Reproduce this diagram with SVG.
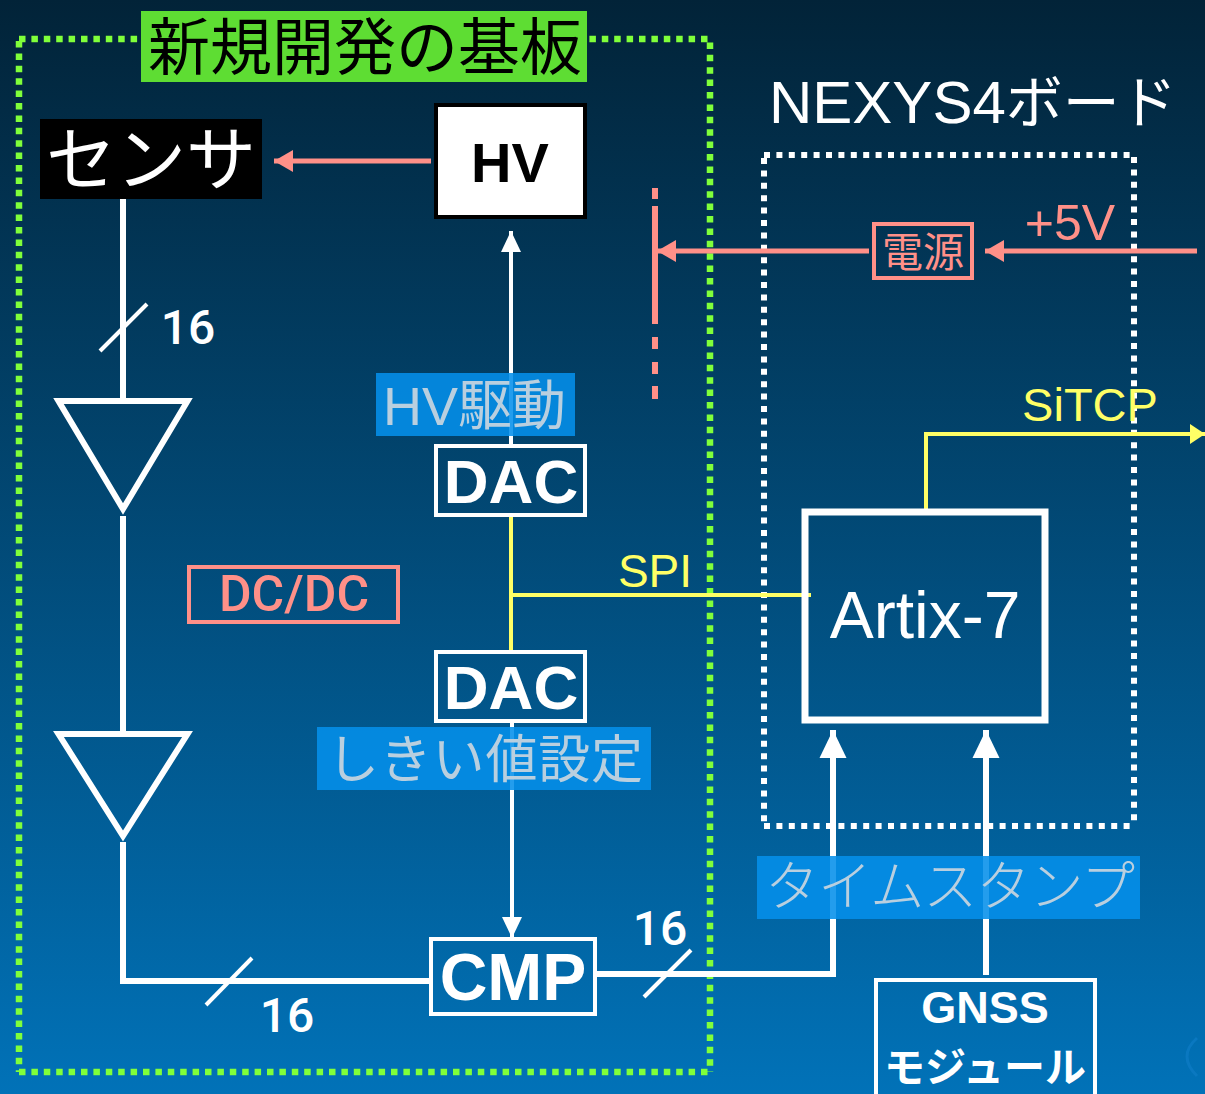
<svg xmlns="http://www.w3.org/2000/svg" width="1205" height="1094" viewBox="0 0 1205 1094">
<style>
text{font-family:"Liberation Sans","Noto Sans CJK JP",sans-serif;text-anchor:middle}
.jp{font-family:"Noto Sans CJK JP",sans-serif;font-weight:400}
.mix{font-family:"Liberation Sans","Noto Sans CJK JP",sans-serif;font-weight:400;text-anchor:start}
.num{font-family:Roboto,"Liberation Sans",sans-serif;font-weight:500;fill:#fff;font-size:48px}
.w{fill:none;stroke:#fff;stroke-width:6}
.w3{fill:none;stroke:#fff;stroke-width:4}
.y{fill:none;stroke:#ffff66;stroke-width:4}
.p{fill:none;stroke:#ff9088;stroke-width:5}
.box{fill:none;stroke:#fff;stroke-width:4}
.lb{font-weight:bold;fill:#fff}
.tag{fill:#0590ea;opacity:.88}
.tagt{fill:#b9cfdf}
</style>
<defs>
<linearGradient id="bg" x1="0" y1="0" x2="0" y2="1"><stop offset="0" stop-color="#022338"/><stop offset="1" stop-color="#0172b8"/></linearGradient>
<marker id="aw" markerUnits="userSpaceOnUse" markerWidth="22" markerHeight="24" refX="21" refY="12" orient="auto"><path d="M0,2L21,12L0,22Z" fill="#fff"/></marker>
<marker id="awb" markerUnits="userSpaceOnUse" markerWidth="30" markerHeight="30" refX="28" refY="15" orient="auto"><path d="M0,1.500L28,15L0,28.500Z" fill="#fff"/></marker>
<marker id="ap" markerUnits="userSpaceOnUse" markerWidth="20" markerHeight="26" refX="19" refY="13" orient="auto"><path d="M0,2L19,13L0,24Z" fill="#ff9088"/></marker>
<marker id="ay" markerUnits="userSpaceOnUse" markerWidth="16" markerHeight="26" refX="15" refY="13" orient="auto"><path d="M0,3L15,13L0,23Z" fill="#ffff66"/></marker>
</defs>
<rect width="1205" height="1094" fill="url(#bg)"/>
<path d="M1197,1038Q1177,1056 1197,1076" fill="none" stroke="#0a78c0" stroke-width="3"/>
<g id="board-new"><path d="M19,41V1072M19,39H710V1072M19,1072H710" fill="none" stroke="#80ff3a" stroke-width="6.500" stroke-dasharray="6.500 5.900"/></g>
<g id="board-nexys"><path d="M764,158V826M764,155H1134V826M764,826H1134" fill="none" stroke="#fff" stroke-width="6" stroke-dasharray="6 6.400"/></g>
<g id="connectors">
<path class="w" d="M123,197V401"/>
<path class="w3" d="M100,351L147,304"/>
<path class="w" d="M123,516V734"/>
<path class="w" d="M123,842V981H432"/>
<path class="w3" d="M206,1005L252,958"/>
<path class="p" d="M431,161H274" marker-end="url(#ap)"/>
<path fill="none" stroke="#fff" stroke-width="4" d="M511,446V231" marker-end="url(#aw)"/>
<path fill="none" stroke="#fff" stroke-width="4" d="M512,722V938" marker-end="url(#aw)"/>
<path class="y" d="M511,516V652"/>
<path class="y" d="M511,595H811"/>
<path class="y" d="M926,510V434H1205" marker-end="url(#ay)"/>
<path class="p" d="M869,251H657" marker-end="url(#ap)"/>
<path class="p" d="M1197,251H985" marker-end="url(#ap)"/>
<path d="M655,188V199M655,206V324M655,337V349M655,362V374M655,386V399" fill="none" stroke="#ff9088" stroke-width="6"/>
<path class="w" d="M596,974H833V730" marker-end="url(#awb)"/>
<path class="w3" d="M644,997L691,950"/>
<path class="w" d="M986,975V730" marker-end="url(#awb)"/>
</g>
<g id="amp1"><path class="w" d="M58.500,401H187.500L123,509Z"/></g>
<g id="amp2"><path class="w" d="M58.500,734H187.500L123,836Z"/></g>
<g id="title-new"><rect x="141" y="11" width="446" height="71" fill="#5edd33"/><text class="jp" x="365" y="70" font-size="62" fill="#000" textLength="434">新規開発の基板</text></g>
<g id="sensor"><rect x="40" y="119" width="222" height="80" fill="#000"/><text class="jp" x="151" y="185" font-size="70" fill="#fff">センサ</text></g>
<g id="hv"><rect x="436" y="105" width="149" height="112" fill="#fff" stroke="#000" stroke-width="4"/><text x="510" y="182" font-size="56" font-weight="bold" fill="#000">HV</text></g>
<g id="count-1"><text x="188" y="344" class="num">16</text></g>
<g id="dac-1"><rect x="436" y="446" width="149" height="69" class="box"/><text x="511" y="503" font-size="62" class="lb">DAC</text></g>
<g id="dac-2"><rect x="436" y="652" width="149" height="69" class="box"/><text x="511" y="709" font-size="62" class="lb">DAC</text></g>
<g id="hv-drive"><rect class="tag" x="376" y="373" width="199" height="63"/><text class="mix tagt" x="383" y="425" font-size="54">HV駆動</text></g>
<g id="threshold"><rect class="tag" x="317" y="727" width="334" height="63"/><text class="jp tagt" x="485" y="778" font-size="52" textLength="316">しきい値設定</text></g>
<g id="dcdc"><rect x="189" y="567" width="209" height="55" fill="none" stroke="#ff9088" stroke-width="4"/><text x="294" y="611" font-size="50" style="font-family:Roboto,sans-serif;font-weight:500" fill="#ff9088">DC/DC</text></g>
<g id="spi"><text x="655" y="587" font-size="46" fill="#ffff66">SPI</text></g>
<g id="nexys-title"><text class="mix" x="769" y="123" font-size="60" fill="#fff">NEXYS4<tspan font-size="57">ボード</tspan></text></g>
<g id="power"><rect x="874" y="224" width="98" height="54" fill="none" stroke="#ff9088" stroke-width="4"/><text class="jp" x="923" y="267" font-size="41" fill="#ff9088">電源</text></g>
<g id="plus5v"><text x="1070" y="240" font-size="50" fill="#ff9088">+5V</text></g>
<g id="sitcp"><text x="1090" y="421" font-size="47" fill="#ffff66">SiTCP</text></g>
<g id="artix"><rect x="805" y="512" width="240" height="208" fill="none" stroke="#fff" stroke-width="7"/><text x="925" y="638" font-size="66" fill="#fff">Artix-7</text></g>
<g id="timestamp"><rect class="tag" x="757" y="856" width="383" height="63"/><text class="jp tagt" x="950" y="906" font-size="54" textLength="370" style="font-weight:300">タイムスタンプ</text></g>
<g id="count-2"><text x="660" y="945" class="num">16</text></g>
<g id="count-3"><text x="287" y="1032" class="num">16</text></g>
<g id="cmp"><rect x="431" y="939" width="164" height="75" class="box"/><text x="513" y="1000" font-size="66" class="lb">CMP</text></g>
<g id="gnss"><path d="M876,1094V980H1095V1094" class="box"/><text x="985" y="1023" font-size="45" class="lb">GNSS</text><text x="985" y="1082" font-size="41" class="jp" style="font-weight:700" fill="#fff" textLength="202">モジュール</text></g>
</svg>
